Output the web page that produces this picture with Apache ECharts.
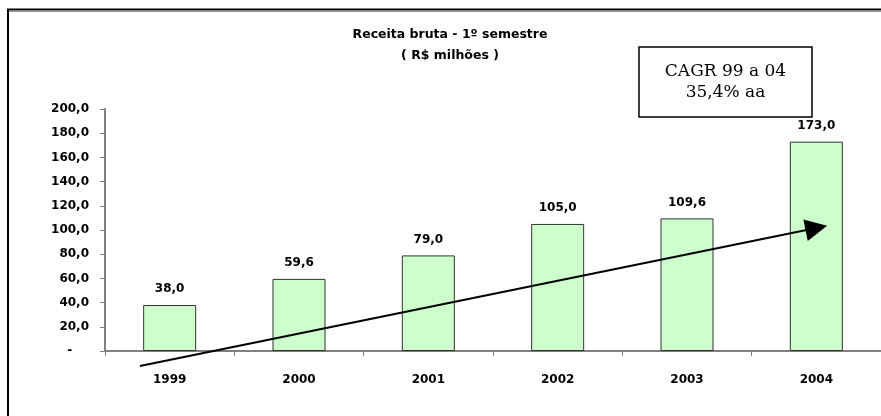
<!DOCTYPE html>
<html>
<head>
<meta charset="utf-8">
<script src="https://cdn.jsdelivr.net/npm/echarts@6/dist/echarts.min.js"></script>
<style>html,body{margin:0;padding:0;background:#fff;}#c{width:881px;height:416px;}</style>
</head>
<body>
<div id="c"></div>
<script>
const categories = ['1999', '2000', '2001', '2002', '2003', '2004'];
const revenue = [38.0, 59.6, 79.0, 105.0, 109.6, 173.0];
const yTicks = [0, 20, 40, 60, 80, 100, 120, 140, 160, 180, 200];
const titleLines = ['Receita bruta - 1º semestre', '( R$ milhões )'];
const noteLines = ['CAGR 99 a 04', '35,4% aa'];
// trend arrow endpoints in data units: [category position, value]
const trendArrow = [[-0.23, -12.4], [5.0, 101.6]];

const fmt = v => v.toFixed(1).replace('.', ',');
const labelFont = 'DejaVu Sans';

const chart = echarts.init(document.getElementById('c'));
chart.setOption({
  animation: false,
  backgroundColor: '#fff',
  title: {
    text: titleLines.join('\n'),
    left: 445, top: 19, textAlign: 'center',
    textStyle: { fontFamily: labelFont, fontWeight: 'bold', fontSize: 12.5, lineHeight: 21, color: '#000' }
  },
  grid: { left: 105, right: 0, top: 109, bottom: 65, containLabel: false },
  xAxis: [{
    type: 'category', data: categories,
    axisLine: { lineStyle: { color: '#808080', width: 2 } },
    axisTick: { show: true, length: 5, lineStyle: { color: '#808080' } },
    axisLabel: { margin: 23, fontFamily: labelFont, fontWeight: 'bold', fontSize: 12, color: '#000' }
  }, {
    type: 'value', min: -0.5, max: 5.5, show: false
  }],
  yAxis: {
    type: 'value', min: yTicks[0], max: yTicks[yTicks.length - 1], interval: yTicks[1] - yTicks[0],
    axisLine: { show: true, onZero: false, lineStyle: { color: '#808080', width: 2 } },
    axisTick: { show: true, length: 5, lineStyle: { color: '#808080' } },
    splitLine: { show: false },
    axisLabel: {
      margin: 16, fontFamily: labelFont, fontWeight: 'bold', fontSize: 12, color: '#000',
      formatter: v => v === 0 ? '-    ' : fmt(v)
    }
  },
  series: [{
    type: 'bar', data: revenue, barWidth: 53, xAxisIndex: 0,
    itemStyle: { color: '#CCFFCC', borderColor: '#333', borderWidth: 1 },
    label: {
      show: true, position: 'top', distance: 10,
      fontFamily: labelFont, fontWeight: 'bold', fontSize: 12, color: '#000',
      formatter: p => fmt(p.value)
    }
  }, {
    type: 'lines', coordinateSystem: 'cartesian2d', xAxisIndex: 1, yAxisIndex: 0,
    clip: false, z: 10,
    symbol: ['none', 'triangle'], symbolSize: [18, 22],
    lineStyle: { color: '#000', width: 2, opacity: 1 },
    itemStyle: { color: '#000' },
    data: [{ coords: trendArrow }]
  }],
  graphic: [
    { type: 'rect', shape: { x: 8, y: 9.5, width: 1000, height: 1000 }, style: { fill: 'none', stroke: '#000', lineWidth: 2 }, silent: true },
    { type: 'line', shape: { x1: 9, y1: 11.5, x2: 881, y2: 11.5 }, style: { stroke: '#999', lineWidth: 1 }, silent: true },
    { type: 'rect', shape: { x: 639, y: 47, width: 173, height: 70 }, style: { fill: '#fff', stroke: '#000', lineWidth: 1.5 }, z: 20 },
    { type: 'text', x: 725.5, y: 82, z: 21,
      style: { text: noteLines.join('\n'), fontFamily: 'DejaVu Serif', fontSize: 17, lineHeight: 21, fill: '#000', align: 'center', verticalAlign: 'middle' } }
  ]
});
</script>
</body>
</html>
